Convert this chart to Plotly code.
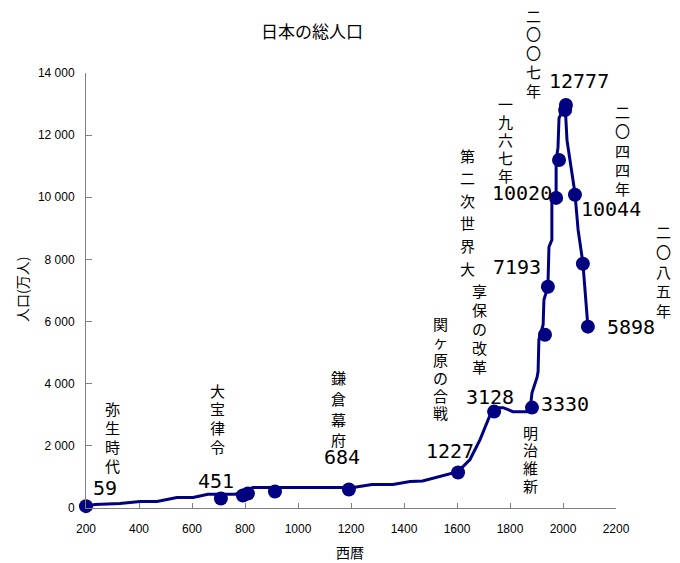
import plotly.graph_objects as go

# ---- data ----
line_years = [200, 234, 328, 404, 468, 543, 604, 660, 762, 830, 1208, 1279, 1358, 1423, 1470,
              1604, 1649, 1687, 1736, 1774, 1811, 1875, 1883, 1902, 1906, 1909, 1925, 1928,
              1943, 1947, 1958, 1958, 1974, 1974, 1981, 1985, 2008, 2015, 2045, 2057, 2075, 2094]
line_pop = [59, 112, 145, 209, 209, 338, 338, 440, 440, 660, 660, 755, 755, 850, 870,
            1170, 1560, 2200, 3230, 3230, 3100, 3100, 3710, 4200, 4390, 5420, 5900, 6700,
            7120, 8400, 8630, 9980, 9980, 11200, 11590, 12550, 12970, 11840, 10140, 8950, 7890, 5830]

marker_years = [200, 709, 792, 811, 913, 1192, 1604, 1740, 1883, 1932, 1943, 1974, 1985,
                2011, 2008, 2045, 2075, 2094]
marker_pop = [59, 305, 400, 466, 530, 595, 1141, 3102, 3231, 5577, 7120, 9980, 11200,
              12970, 12810, 10080, 7860, 5836]

value_labels = ["59", "451", "684", "1227", "3128", "3330", "7193", "10020", "12777", "10044", "5898"]
event_labels = ["弥生時代", "大宝律令", "鎌倉幕府", "関ヶ原の合戦", "享保の改革", "明治維新",
                "第二次世界大", "一九六七年", "二〇〇七年", "二〇四四年", "二〇八五年"]

title_text = "日本の総人口"
x_title = "西暦"
y_title = "人口(万人)"

# ---- layout (pixel positions of text in the 680x563 page) ----
OFF = 8                      # page body margin of the html page
W, H = 680 - OFF, 563 - OFF
PX_L, PX_R, PX_B, PX_T = 86, 616, 508, 73

def paper(px, py):
    return (px - PX_L) / (PX_R - PX_L), (PX_B - py) / (PX_B - PX_T)

value_pos = [(105, 488), (216, 481), (342, 457), (450, 451), (490, 397), (565, 404),
             (517, 267), (522, 193), (579, 81), (611, 209), (631, 327)]
event_pos = [(112, 408, 19), (217, 390, 18.7), (338, 378, 20.5), (440, 323, 18),
             (480, 290, 19.2), (530, 432, 17.8), (467, 155, 22.6), (505, 103, 18),
             (533, 15, 18.8), (622, 112, 19), (663, 232, 19.5)]

NAVY = "#000080"
FONT = "Noto Sans CJK JP"
NUMFONT = "DejaVu Sans Mono"

fig = go.Figure()
fig.add_trace(go.Scatter(x=line_years, y=line_pop, mode="lines",
                         line=dict(color=NAVY, width=3), hoverinfo="skip", showlegend=False))
fig.add_trace(go.Scatter(x=marker_years, y=marker_pop, mode="markers",
                         marker=dict(color=NAVY, size=14, symbol="circle"),
                         cliponaxis=False, showlegend=False))

annotations = []
for txt, (px, py) in zip(value_labels, value_pos):
    ax_, ay_ = paper(px, py)
    annotations.append(dict(x=ax_, y=ay_, xref="paper", yref="paper", text=txt, showarrow=False,
                            xanchor="center", yanchor="middle",
                            font=dict(family=NUMFONT, size=20, color="#000000")))
for txt, (px, py, sp) in zip(event_labels, event_pos):
    for i, ch in enumerate(txt):
        ax_, ay_ = paper(px, py + i * sp)
        annotations.append(dict(x=ax_, y=ay_, xref="paper", yref="paper", text=ch, showarrow=False,
                                xanchor="center", yanchor="middle",
                                font=dict(family=FONT, size=15, color="#000000")))

tx, ty = paper(312, 30)
annotations.append(dict(x=tx, y=ty, xref="paper", yref="paper", text=title_text, showarrow=False,
                        xanchor="center", yanchor="middle",
                        font=dict(family=FONT, size=17, color="#000000")))
xx, xy = paper(350, 552)
annotations.append(dict(x=xx, y=xy, xref="paper", yref="paper", text=x_title, showarrow=False,
                        xanchor="center", yanchor="middle",
                        font=dict(family=FONT, size=14, color="#000000")))
yx, yy = paper(22, 290)
annotations.append(dict(x=yx, y=yy, xref="paper", yref="paper", text=y_title, showarrow=False,
                        xanchor="center", yanchor="middle", textangle=-90,
                        font=dict(family=FONT, size=14, color="#000000")))

fig.update_layout(
    width=W, height=H,
    margin=dict(l=PX_L - OFF, r=W - (PX_R - OFF), t=PX_T - OFF, b=H - (PX_B - OFF)),
    paper_bgcolor="white", plot_bgcolor="white",
    annotations=annotations,
    xaxis=dict(range=[200, 2200], dtick=200, tick0=200, tickformat="d",
               showgrid=False, zeroline=False, showline=True, linecolor="#808080", linewidth=1,
               ticks="inside", ticklen=5, tickcolor="#808080", ticklabelstandoff=10,
               tickfont=dict(family="Liberation Sans", size=12, color="#000000")),
    yaxis=dict(range=[0, 14000], dtick=2000, tickformat=",d",
               showgrid=False, zeroline=False, showline=True, linecolor="#808080", linewidth=1,
               ticks="inside", ticklen=6, tickcolor="#808080", ticklabelstandoff=8,
               tickfont=dict(family="Liberation Sans", size=12, color="#000000")),
    separators=". ",
)

fig.write_html("out.html")
